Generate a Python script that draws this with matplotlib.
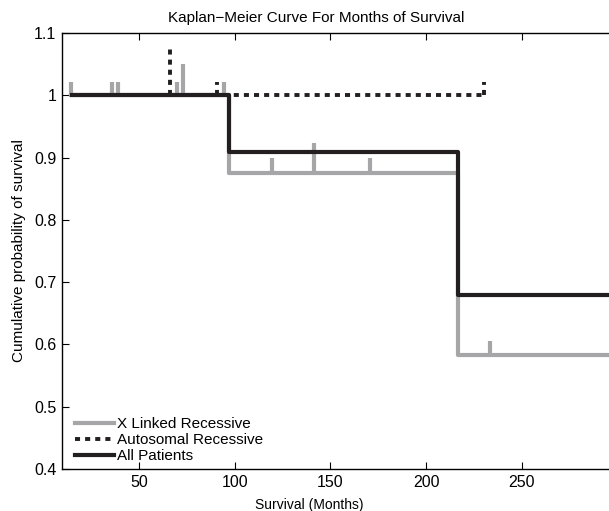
import numpy as np
import matplotlib
matplotlib.use('Agg')
import matplotlib.pyplot as plt

plt.rcParams['font.family'] = ['Liberation Sans', 'DejaVu Sans']

# step curves (time in months, survival probability)
xlr_times = [14.5, 97, 216.6, 300]
xlr_surv = [1.0, 0.875, 0.583, 0.583]
ar_times = [15, 230]
ar_surv = [1.0, 1.0]
all_times = [15, 97, 216.6, 300]
all_surv = [1.0, 0.909, 0.68, 0.68]

# censor marks: time, base value, top of the mark
xlr_cens_t = [14.5, 36, 39, 70, 73, 94.4, 119.4, 141.4, 170.7, 233.5]
xlr_cens_base = [1.0, 1.0, 1.0, 1.0, 1.0, 1.0, 0.875, 0.875, 0.875, 0.583]
xlr_cens_top = [1.022, 1.022, 1.022, 1.022, 1.05, 1.022, 0.9, 0.923, 0.9, 0.605]
ar_cens_t = [66, 91, 230]
ar_cens_base = [1.0, 1.0, 1.0]
ar_cens_top = [1.074, 1.022, 1.022]

labels = ['X Linked Recessive', 'Autosomal Recessive', 'All Patients']
GRAY = '#a6a6a8'
BLACK = '#231f20'
DOT = (0, (1.3, 1.3))

fig = plt.figure(figsize=(6.09, 5.11), dpi=100)
ax = fig.add_axes([62 / 609, 42 / 511, 1 - 62 / 609, 436 / 511])

ax.vlines(xlr_cens_t, xlr_cens_base, xlr_cens_top, colors=GRAY, lw=3)
ax.step(xlr_times, xlr_surv, where='post', color=GRAY, lw=3, label=labels[0])
ax.vlines(ar_cens_t, ar_cens_base, ar_cens_top, colors=BLACK, lw=2.8, linestyles=DOT)
ax.step(ar_times, ar_surv, where='post', color=BLACK, lw=2.8, ls=DOT, label=labels[1])
ax.step(all_times, all_surv, where='post', color=BLACK, lw=3, label=labels[2])

ax.set_xlim(9.8, 295.5)
ax.set_ylim(0.4, 1.1)
ax.set_xticks([50, 100, 150, 200, 250])
ax.set_yticks(np.arange(0.4, 1.11, 0.1))
ax.set_yticklabels(['0.4', '0.5', '0.6', '0.7', '0.8', '0.9', '1', '1.1'])
ax.tick_params(direction='in', top=True, length=5, width=0.8, labelsize=11.5, pad=4)
ax.spines['right'].set_visible(False)
for s in ['left', 'top', 'bottom']:
    ax.spines[s].set_linewidth(1.0)

ax.set_title('Kaplan\u2212Meier Curve For Months of Survival', fontsize=11, pad=8, x=0.464)
ax.set_xlabel('Survival (Months)', fontsize=10, labelpad=6, x=0.452)
ax.set_ylabel('Cumulative probability of survival', fontsize=11, labelpad=6)

ax.legend(loc='lower left', frameon=False, fontsize=11, handlelength=2.6,
          handletextpad=0.2, labelspacing=0.12, borderaxespad=0.0,
          bbox_to_anchor=(0.012, 0.0))

fig.savefig('out.png', dpi=100)
